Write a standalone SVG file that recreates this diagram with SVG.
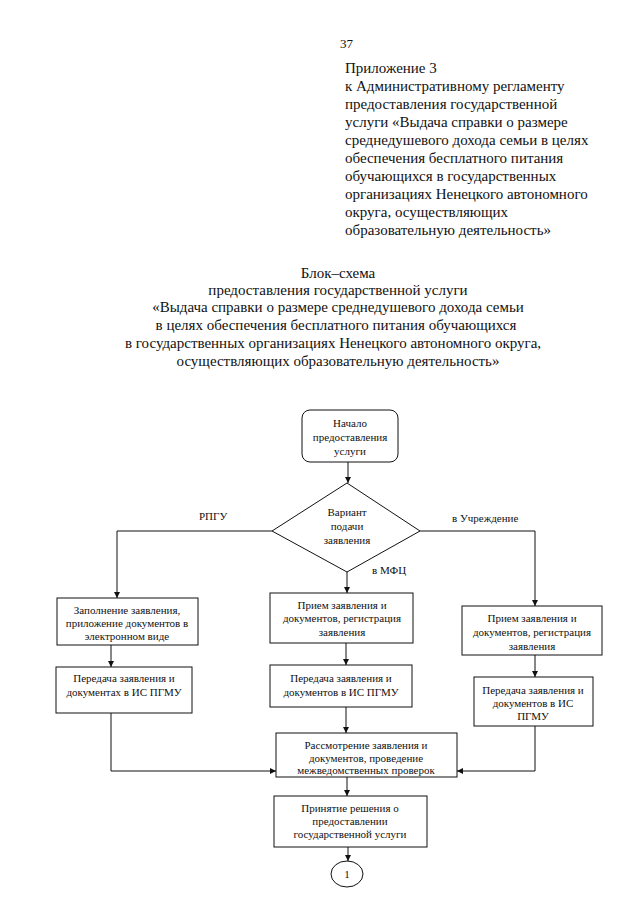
<svg xmlns="http://www.w3.org/2000/svg" width="640" height="905" viewBox="0 0 640 905">
<style>
  .hdr { font-family: "Liberation Serif", "Times New Roman", serif; font-size: 15px; fill: #111; }
  .ttl { font-family: "Liberation Serif", "Times New Roman", serif; font-size: 15px; fill: #111; text-anchor: middle; }
  .t { font-family: "Liberation Serif", "Times New Roman", serif; font-size: 11px; fill: #111; text-anchor: middle; }
  .lbl { font-family: "Liberation Serif", "Times New Roman", serif; font-size: 11px; fill: #111; }
  .box { fill: #fff; stroke: #111; stroke-width: 1; }
  .ln { fill: none; stroke: #111; stroke-width: 1; }
</style>
<defs>
  <marker id="arr" viewBox="0 0 10 10" refX="10" refY="5" markerWidth="6" markerHeight="6" orient="auto" markerUnits="userSpaceOnUse">
    <path d="M0,0 L10,5 L0,10 z" fill="#111"/>
  </marker>
</defs>
<rect width="640" height="905" fill="#fff"/>

<text class="hdr" x="340" y="48" style="font-size:13px">37</text>
<g id="header">
  <text class="hdr" x="345" y="73">Приложение 3</text>
  <text class="hdr" x="345" y="91">к Административному регламенту</text>
  <text class="hdr" x="345" y="109">предоставления государственной</text>
  <text class="hdr" x="345" y="127">услуги «Выдача справки о размере</text>
  <text class="hdr" x="345" y="145">среднедушевого дохода семьи в целях</text>
  <text class="hdr" x="345" y="163">обеспечения бесплатного питания</text>
  <text class="hdr" x="345" y="181">обучающихся в государственных</text>
  <text class="hdr" x="345" y="199">организациях Ненецкого автономного</text>
  <text class="hdr" x="345" y="217">округа, осуществляющих</text>
  <text class="hdr" x="345" y="235">образовательную деятельность»</text>
</g>
<g id="title">
  <text class="ttl" x="338" y="278">Блок–схема</text>
  <text class="ttl" x="338" y="295">предоставления государственной услуги</text>
  <text class="ttl" x="338" y="312">«Выдача справки о размере среднедушевого дохода семьи</text>
  <text class="ttl" x="336" y="330">в целях обеспечения бесплатного питания обучающихся</text>
  <text class="ttl" x="333" y="348">в государственных организациях Ненецкого автономного округа,</text>
  <text class="ttl" x="338" y="366">осуществляющих образовательную деятельность»</text>
</g>

<g id="connectors">
  <line class="ln" x1="348" y1="462" x2="348" y2="483" marker-end="url(#arr)"/>
  <polyline class="ln" points="272,531 117,531 117,598" marker-end="url(#arr)"/>
  <polyline class="ln" points="420,531 535,531 535,606" marker-end="url(#arr)"/>
  <line class="ln" x1="347" y1="572" x2="347" y2="593" marker-end="url(#arr)"/>
  <line class="ln" x1="111" y1="645" x2="111" y2="667" marker-end="url(#arr)"/>
  <polyline class="ln" points="111,713 111,771 276,771" marker-end="url(#arr)"/>
  <line class="ln" x1="346" y1="643" x2="346" y2="665" marker-end="url(#arr)"/>
  <line class="ln" x1="346" y1="707" x2="346" y2="733" marker-end="url(#arr)"/>
  <line class="ln" x1="535" y1="655" x2="535" y2="677" marker-end="url(#arr)"/>
  <polyline class="ln" points="535,726 535,771 457,771" marker-end="url(#arr)"/>
  <line class="ln" x1="347" y1="777" x2="347" y2="796" marker-end="url(#arr)"/>
  <line class="ln" x1="348" y1="847" x2="348" y2="861" marker-end="url(#arr)"/>
  <text class="lbl" x="199" y="520">РПГУ</text>
  <text class="lbl" x="452" y="522">в Учреждение</text>
  <text class="lbl" x="372" y="574">в МФЦ</text>
</g>

<g id="start">
  <rect class="box" x="302" y="410" width="96" height="52" rx="8" ry="8"/>
  <text class="t" x="350" y="427">Начало</text>
  <text class="t" x="350" y="441">предоставления</text>
  <text class="t" x="350" y="455">услуги</text>
</g>
<g id="decision">
  <polygon class="box" points="347,483 420,531 347,572 272,531"/>
  <text class="t" x="347" y="516">Вариант</text>
  <text class="t" x="347" y="530">подачи</text>
  <text class="t" x="347" y="544">заявления</text>
</g>
<g id="l1">
  <rect class="box" x="57" y="598" width="141" height="47"/>
  <text class="t" x="127" y="614">Заполнение заявления,</text>
  <text class="t" x="127" y="627">приложение документов в</text>
  <text class="t" x="127" y="640">электронном виде</text>
</g>
<g id="l2">
  <rect class="box" x="56" y="667" width="136" height="46"/>
  <text class="t" x="124" y="682">Передача заявления и</text>
  <text class="t" x="124" y="696">документах в ИС ПГМУ</text>
</g>
<g id="c1">
  <rect class="box" x="270" y="593" width="143" height="50"/>
  <text class="t" x="342" y="609">Прием заявления и</text>
  <text class="t" x="342" y="622">документов, регистрация</text>
  <text class="t" x="342" y="636">заявления</text>
</g>
<g id="c2">
  <rect class="box" x="270" y="665" width="142" height="42"/>
  <text class="t" x="341" y="682">Передача заявления и</text>
  <text class="t" x="341" y="696">документов в ИС ПГМУ</text>
</g>
<g id="r1">
  <rect class="box" x="462" y="606" width="140" height="49"/>
  <text class="t" x="532" y="622">Прием заявления и</text>
  <text class="t" x="532" y="636">документов, регистрация</text>
  <text class="t" x="532" y="650">заявления</text>
</g>
<g id="r2">
  <rect class="box" x="474" y="677" width="119" height="49"/>
  <text class="t" x="533" y="694">Передача заявления и</text>
  <text class="t" x="533" y="707">документов в ИС</text>
  <text class="t" x="533" y="720">ПГМУ</text>
</g>
<g id="c3">
  <rect class="box" x="276" y="733" width="181" height="44"/>
  <text class="t" x="366" y="749">Рассмотрение заявления и</text>
  <text class="t" x="366" y="762">документов, проведение</text>
  <text class="t" x="366" y="774">межведомственных проверок</text>
</g>
<g id="c4">
  <rect class="box" x="274" y="796" width="153" height="51"/>
  <text class="t" x="350" y="812">Принятие решения о</text>
  <text class="t" x="350" y="825">предоставлении</text>
  <text class="t" x="350" y="838">государственной услуги</text>
</g>
<g id="end">
  <ellipse class="box" cx="347" cy="874" rx="16" ry="13"/>
  <text class="t" x="347" y="878">1</text>
</g>
</svg>
